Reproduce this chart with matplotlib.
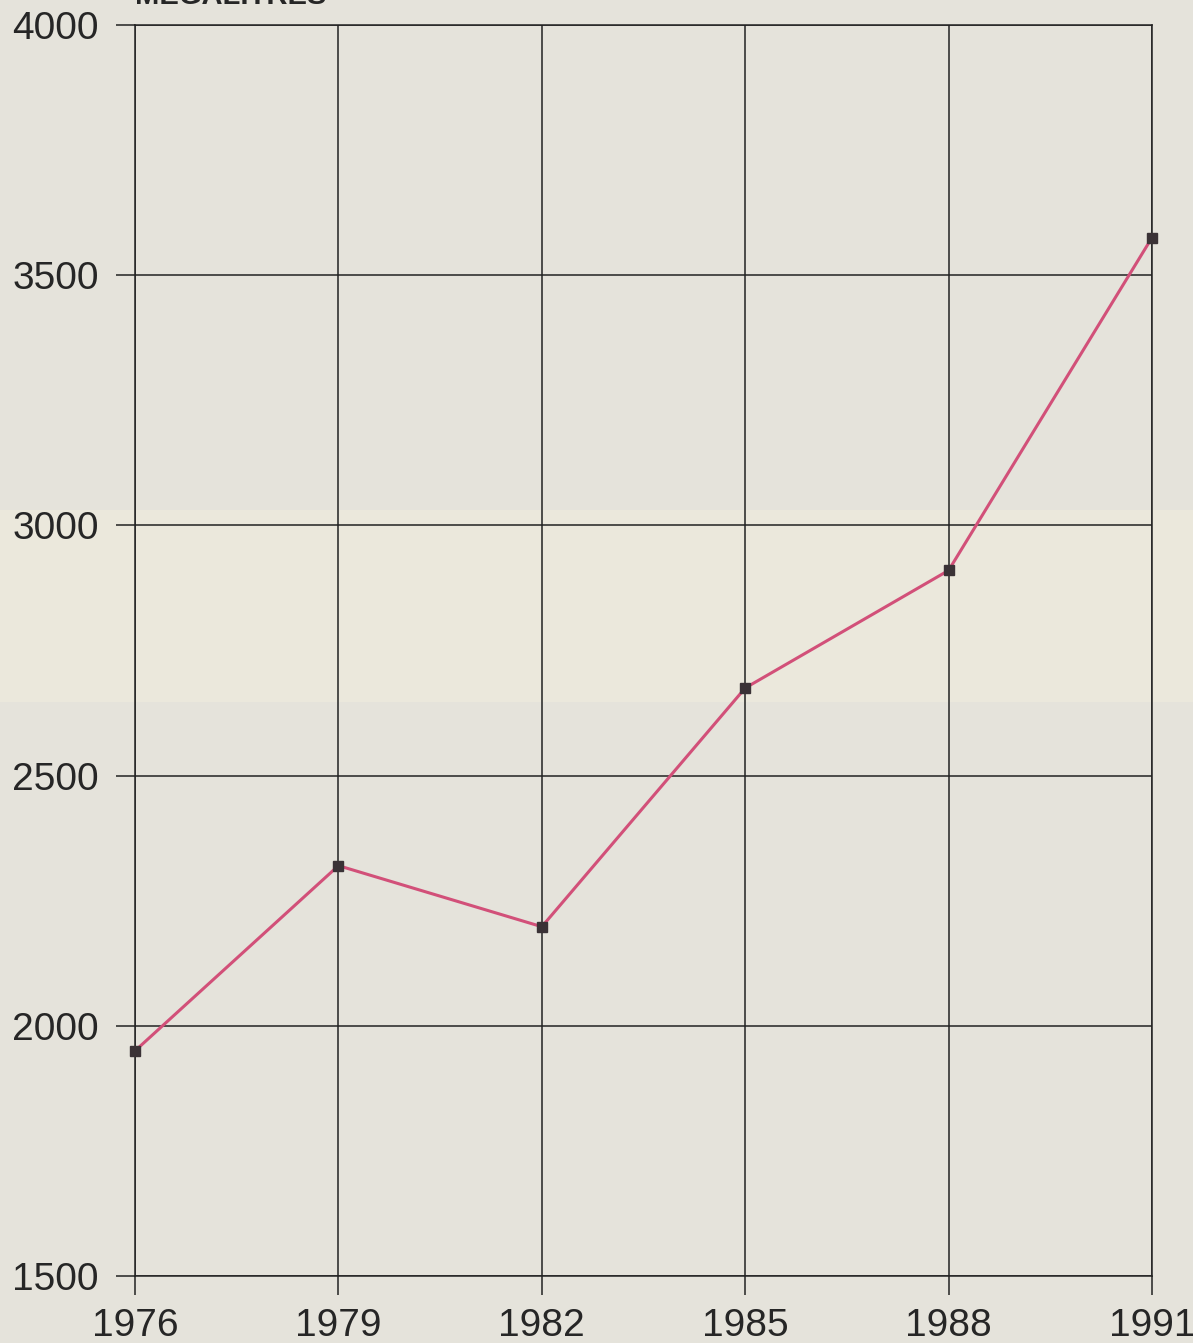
import numpy as np
import matplotlib.pyplot as plt
from matplotlib.patches import Rectangle

# Annual volume, megalitres
years = [1976, 1979, 1982, 1985, 1988, 1991]
volume = [1950, 2320, 2198, 2675, 2910, 3575]
y_ticks = [1500, 2000, 2500, 3000, 3500, 4000]

PAPER = "#e5e3db"
INK = "#262626"
LINE = "#d25079"

plt.rcParams["font.family"] = ["Liberation Sans", "DejaVu Sans"]

fig = plt.figure(figsize=(11.93, 13.43), dpi=100, facecolor=PAPER)
# lighter band across the middle of the sheet
fig.patches.append(Rectangle((0.0, 0.477), 1.0, 0.143, transform=fig.transFigure,
                             facecolor="#ebe8dc", edgecolor="none", zorder=-1))
ax = fig.add_axes([0.1132, 0.0499, 0.8524, 0.9315])
ax.set_facecolor("none")

ax.plot(years, volume, color=LINE, linewidth=2.2, zorder=3, clip_on=False)
ax.plot(years, volume, linestyle="none", marker="s", markersize=7,
        color="#3a3236", zorder=4, clip_on=False)

ax.set_xlim(years[0], years[-1])
ax.set_ylim(y_ticks[0], y_ticks[-1])
ax.set_xticks(years)
ax.set_yticks(y_ticks)
ax.grid(True, color="#222222", linewidth=1.1)
for s in ax.spines.values():
    s.set_color("#222222")
    s.set_linewidth(1.1)
ax.tick_params(axis="both", direction="out", length=14, width=1.1,
               color="#222222", labelsize=28, labelcolor=INK)
ax.tick_params(axis="x", pad=9)
ax.tick_params(axis="y", pad=12)

# unit label sits at the very top edge of the sheet
fig.text(0.113, 0.9925, "MEGALITRES", ha="left", va="bottom", fontsize=21,
         fontweight="bold", color=INK)

fig.savefig("out.png", dpi=100, facecolor=PAPER)
